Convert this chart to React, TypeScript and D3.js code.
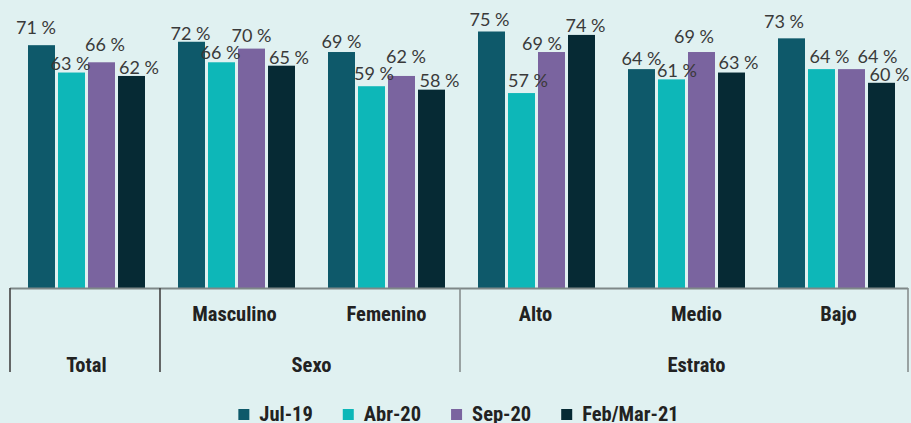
import React, { useEffect, useRef } from "react";
import * as d3 from "d3";

const groups = ["Total", "Masculino", "Femenino", "Alto", "Medio", "Bajo"];
const subLabels = ["", "Masculino", "Femenino", "Alto", "Medio", "Bajo"];
const parentNames = ["Total", "Sexo", "Estrato"];
const parentOf = [0, 1, 1, 2, 2, 2];
const series = ["Jul-19", "Abr-20", "Sep-20", "Feb/Mar-21"];
const jul19 = [71, 72, 69, 75, 64, 73];
const abr20 = [63, 66, 59, 57, 61, 64];
const sep20 = [66, 70, 62, 69, 69, 64];
const feb21 = [62, 65, 58, 74, 63, 60];
const values = [jul19, abr20, sep20, feb21];

// label layout nudges (dx from bar centre, gap above bar top), per group per series
const labelNudge = [
  [[-5.5, 11], [-1, 3], [3.5, 11], [7.5, 2]],
  [[-1, 2], [-1, 3], [0, 7], [7.5, 2]],
  [[0, 4], [2.5, 6], [4.5, 13], [8, 3]],
  [[-2, 6], [6.5, 6], [-9.5, 2], [4, 3]],
  [[0, 4], [5.5, 2], [-7.5, 9], [7, 4]],
  [[-7.5, 10], [8, 6], [26, 6], [8, 2]],
];
const subLabelNudge = [0, -2, 0, -1, 10, 2];
const parentLabelNudge = [0, 0, 10];

const W = 911;
const H = 423;
const colors = ["#0e596a", "#0db7b8", "#7a649f", "#062a34"];
const BG = "#e0f1f1";
const VALUE_FONT = "Lato, 'Open Sans', 'DejaVu Sans', sans-serif";
const CAT_FONT = "'Liberation Sans Narrow', 'Roboto Condensed', 'DejaVu Sans Condensed', 'Liberation Sans', sans-serif";

export default function App() {
  const ref = useRef<SVGSVGElement | null>(null);

  useEffect(() => {
    document.body.style.margin = "0";
    const svg = d3.select(ref.current);
    svg.selectAll("*").remove();

    svg.append("rect").attr("width", W).attr("height", H).attr("fill", BG);

    const baseY = 288;
    const y = d3.scaleLinear().domain([0, 100]).range([baseY, baseY - 342]);
    const x0 = d3.scaleBand<string>().domain(groups).range([10, 913]).paddingInner(0.22).paddingOuter(0.12);
    const x1 = d3.scaleBand<string>().domain(series).range([0, x0.bandwidth()]).paddingInner(0.1);

    // bars
    groups.forEach((g, gi) => {
      series.forEach((s, si) => {
        const v = values[si][gi];
        svg
          .append("rect")
          .attr("x", (x0(g) as number) + (x1(s) as number))
          .attr("y", y(v))
          .attr("width", x1.bandwidth())
          .attr("height", baseY - y(v))
          .attr("fill", colors[si]);
      });
    });

    // value labels
    groups.forEach((g, gi) => {
      series.forEach((s, si) => {
        const v = values[si][gi];
        const [dx, gap] = labelNudge[gi][si];
        svg
          .append("text")
          .attr("x", (x0(g) as number) + (x1(s) as number) + x1.bandwidth() / 2 + dx)
          .attr("y", y(v) - gap)
          .attr("text-anchor", "middle")
          .attr("font-family", VALUE_FONT)
          .attr("font-weight", 400)
          .attr("font-size", 18)
          .attr("fill", "#3a3a3a")
          .text(`${v} %`);
      });
    });

    // axis lines
    const pad = 18;
    const leftEdge = (x0(groups[0]) as number) - pad;
    const rightEdge = (x0(groups[groups.length - 1]) as number) + x0.bandwidth() + 13;
    svg
      .append("line")
      .attr("x1", leftEdge)
      .attr("x2", rightEdge)
      .attr("y1", baseY + 0.5)
      .attr("y2", baseY + 0.5)
      .attr("stroke", "#7e8888")
      .attr("stroke-width", 2);

    const sepXs: number[] = [];
    parentNames.forEach((_, pi) => {
      const idx = parentOf.indexOf(pi);
      sepXs.push((x0(groups[idx]) as number) - pad);
    });
    sepXs.push(rightEdge);
    sepXs.forEach((sx, i) => {
      svg
        .append("line")
        .attr("x1", sx)
        .attr("x2", sx)
        .attr("y1", baseY)
        .attr("y2", 372)
        .attr("stroke", i < 2 ? "#444" : "#878f8f")
        .attr("stroke-width", 1.6);
    });

    // sub labels
    groups.forEach((g, gi) => {
      if (!subLabels[gi]) return;
      svg
        .append("text")
        .attr("x", (x0(g) as number) + x0.bandwidth() / 2 + subLabelNudge[gi])
        .attr("y", 321)
        .attr("text-anchor", "middle")
        .attr("font-family", CAT_FONT)
        .attr("font-weight", 700)
        .attr("font-size", 20.5)
        .attr("fill", "#222")
        .text(subLabels[gi]);
    });

    // parent labels
    parentNames.forEach((p, pi) => {
      const members = groups.filter((_, gi) => parentOf[gi] === pi);
      const cx = d3.mean(members, (m) => (x0(m) as number) + x0.bandwidth() / 2) as number;
      svg
        .append("text")
        .attr("x", cx + parentLabelNudge[pi])
        .attr("y", 372)
        .attr("text-anchor", "middle")
        .attr("font-family", CAT_FONT)
        .attr("font-weight", 700)
        .attr("font-size", 20.5)
        .attr("fill", "#222")
        .text(p);
    });

    // legend
    const legend = svg.append("g");
    let cx = 0;
    const gapAfter = 30;
    series.forEach((s, si) => {
      const item = legend.append("g").attr("transform", `translate(${cx},0)`);
      item.append("rect").attr("x", 0).attr("y", 409).attr("width", 11).attr("height", 11).attr("fill", colors[si]);
      const t = item
        .append("text")
        .attr("x", 21)
        .attr("y", 421)
        .attr("font-family", CAT_FONT)
        .attr("font-weight", 700)
        .attr("font-size", 20.5)
        .attr("fill", "#222")
        .text(s);
      const w = (t.node() as SVGTextElement).getComputedTextLength();
      cx += 21 + w + gapAfter;
    });
    const totalW = cx - gapAfter;
    legend.attr("transform", `translate(${(W - totalW) / 2 + 3},0)`);
  }, []);

  return (
    <div style={{ position: "fixed", left: 0, top: 0 }}>
      <svg ref={ref} width={W} height={H} style={{ display: "block" }} />
    </div>
  );
}
